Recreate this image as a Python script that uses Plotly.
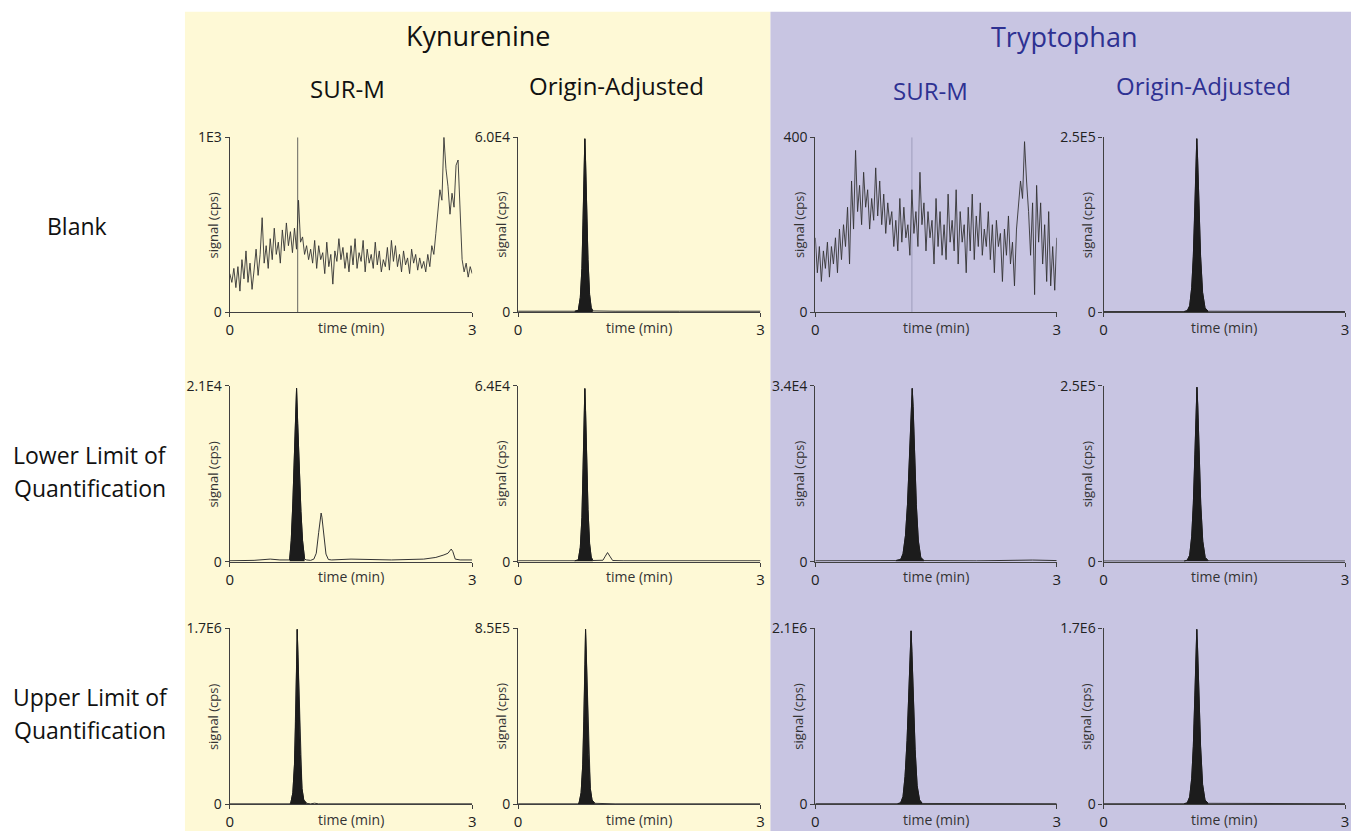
import numpy as np
import plotly.graph_objects as go

# ---------------- data ----------------
compounds = ["Kynurenine", "Tryptophan"]
methods = ["SUR-M", "Origin-Adjusted"]
row_labels = [["Blank"], ["Lower Limit of", "Quantification"], ["Upper Limit of", "Quantification"]]

# y-axis maxima (tick labels) per row (r) and column (c)
ymax_vals = [[1000, 60000, 400, 250000],
             [21000, 64000, 34000, 250000],
             [1700000, 850000, 2100000, 1700000]]
ymax_text = [["1E3", "6.0E4", "400", "2.5E5"],
             ["2.1E4", "6.4E4", "3.4E4", "2.5E5"],
             ["1.7E6", "8.5E5", "2.1E6", "1.7E6"]]

# noisy blank traces (SUR-M), sampled every 0.025 min from 0 to 3
kyn_blank_sur = [
    220, 170, 250, 140, 260, 120, 300, 190, 350, 170, 280, 130, 240, 360, 210, 330, 540, 280, 380, 250,
    420, 300, 480, 330, 400, 280, 470, 350, 510, 380, 460, 340, 480, 360, 640, 400, 430, 330, 380, 300,
    360, 280, 410, 250, 380, 300, 340, 220, 400, 260, 330, 160, 350, 290, 420, 300, 370, 250, 340, 230,
    380, 270, 420, 250, 340, 290, 410, 230, 360, 280, 330, 250, 400, 270, 350, 230, 300, 260, 370, 240,
    410, 290, 380, 260, 330, 230, 350, 270, 310, 220, 360, 280, 330, 240, 310, 250, 290, 230, 330, 260,
    380, 330, 450, 560, 700, 640, 1000, 820, 720, 560, 680, 600, 840, 870, 560, 300, 230, 280, 200, 260,
    220]
trp_blank_sur = [
    170, 90, 150, 70, 140, 100, 160, 80, 150, 110, 170, 90, 190, 120, 200, 150, 240, 110, 300, 190,
    370, 230, 290, 200, 320, 240, 280, 190, 260, 210, 330, 220, 300, 200, 270, 180, 250, 200, 230, 150,
    210, 140, 260, 160, 240, 170, 200, 130, 280, 180, 230, 150, 320, 200, 250, 140, 230, 170, 210, 110,
    260, 150, 230, 130, 200, 120, 270, 160, 210, 140, 280, 110, 230, 160, 200, 90, 240, 140, 270, 120,
    220, 150, 250, 130, 190, 150, 230, 120, 200, 90, 210, 150, 180, 70, 190, 130, 220, 110, 160, 60,
    190, 240, 300, 260, 390, 300, 230, 130, 250, 40, 290, 160, 250, 110, 200, 70, 230, 60, 150, 50,
    170]
blank_time = np.linspace(0, 3, len(kyn_blank_sur))
marker_rt = {"kyn": 0.84, "trp": 1.2}

# peak traces
kyn_blank_oa_t = [0, 0.5, 0.7, 0.745, 0.77, 0.79, 0.805, 0.818, 0.826, 0.835, 0.848, 0.865, 0.885, 0.905, 0.925, 1.2, 2.0, 3.0]
kyn_blank_oa_v = [300, 300, 300, 600, 5000, 15000, 32000, 50000, 59500, 52000, 36000, 18000, 6000, 1500, 400, 300, 300, 300]

kyn_lloq_sur_t = [0, 0.3, 0.5, 0.62, 0.74, 0.76, 0.78, 0.8, 0.815, 0.826, 0.84, 0.86, 0.88, 0.9, 0.925, 0.95, 1.0, 1.04,
                  1.07, 1.1, 1.12, 1.13, 1.14, 1.16, 1.19, 1.22, 1.26, 1.5, 2.0, 2.4, 2.55, 2.65, 2.7, 2.74, 2.76, 2.79, 2.85, 3.0]
kyn_lloq_sur_v = [100, 150, 300, 200, 200, 2500, 7000, 13000, 17500, 20700, 16500, 11000, 6000, 2500, 300, 200, 150, 300,
                  1000, 3500, 5600, 5800, 5300, 3200, 900, 250, 200, 300, 200, 300, 500, 800, 1000, 1500, 1200, 300, 200, 200]

kyn_lloq_oa_t = [0, 0.5, 0.7, 0.745, 0.77, 0.79, 0.805, 0.818, 0.826, 0.835, 0.848, 0.865, 0.885, 0.905, 0.925,
                 1.0, 1.05, 1.08, 1.107, 1.135, 1.17, 1.3, 2.0, 2.5, 3.0]
kyn_lloq_oa_v = [300, 300, 300, 600, 5200, 16000, 34000, 53000, 63000, 55000, 38000, 19000, 6500, 1600, 400,
                 300, 500, 2000, 3300, 2000, 400, 300, 300, 500, 300]

kyn_uloq_sur_t = [0, 0.6, 0.74, 0.755, 0.78, 0.8, 0.815, 0.826, 0.834, 0.843, 0.856, 0.873, 0.893, 0.915, 0.95, 1.0, 1.05, 1.1, 2.0, 3.0]
kyn_uloq_sur_v = [3000, 3000, 3000, 12000, 110000, 380000, 800000, 1350000, 1690000, 1450000, 950000, 480000, 150000, 40000, 8000, 3000, 9000, 3000, 3000, 3000]

kyn_uloq_oa_t = [0, 0.6, 0.74, 0.755, 0.78, 0.8, 0.815, 0.827, 0.835, 0.844, 0.857, 0.874, 0.894, 0.915, 0.95, 1.2, 2.0, 3.0]
kyn_uloq_oa_v = [1500, 1500, 1500, 6000, 55000, 190000, 400000, 675000, 845000, 725000, 475000, 240000, 75000, 20000, 4000, 1500, 1500, 1500]

trp_blank_oa_t = [0, 0.5, 1.0, 1.04, 1.07, 1.095, 1.115, 1.135, 1.15, 1.158, 1.168, 1.185, 1.205, 1.23, 1.26, 1.3, 2.0, 2.5, 3.0]
trp_blank_oa_v = [800, 1000, 800, 2000, 9000, 35000, 80000, 150000, 215000, 248000, 220000, 150000, 80000, 28000, 6000, 1200, 800, 1000, 800]

trp_lloq_sur_t = [0, 0.5, 1.0, 1.06, 1.09, 1.12, 1.145, 1.17, 1.19, 1.204, 1.215, 1.232, 1.255, 1.28, 1.31, 1.35, 2.0, 2.7, 3.0]
trp_lloq_sur_v = [150, 150, 200, 400, 1500, 5000, 11000, 20000, 29000, 33500, 30000, 21000, 11000, 4000, 800, 200, 150, 300, 200]

trp_lloq_oa_t = [0, 0.5, 1.0, 1.04, 1.07, 1.095, 1.115, 1.135, 1.15, 1.16, 1.17, 1.187, 1.207, 1.232, 1.262, 1.3, 2.0, 3.0]
trp_lloq_oa_v = [800, 800, 800, 2000, 9000, 36000, 82000, 152000, 218000, 248000, 222000, 152000, 82000, 29000, 6000, 1200, 800, 800]

trp_uloq_sur_t = [0, 0.5, 1.02, 1.06, 1.09, 1.115, 1.14, 1.16, 1.178, 1.19, 1.2, 1.217, 1.24, 1.265, 1.295, 1.33, 2.0, 3.0]
trp_uloq_sur_v = [5000, 5000, 5000, 15000, 90000, 330000, 760000, 1280000, 1780000, 2070000, 1820000, 1250000, 650000, 220000, 50000, 8000, 5000, 5000]

trp_uloq_oa_t = [0, 0.5, 1.0, 1.04, 1.07, 1.095, 1.115, 1.135, 1.15, 1.158, 1.168, 1.185, 1.205, 1.23, 1.26, 1.3, 2.0, 3.0]
trp_uloq_oa_v = [4000, 4000, 4000, 12000, 70000, 250000, 560000, 1050000, 1480000, 1690000, 1500000, 1030000, 560000, 190000, 40000, 8000, 4000, 4000]

# panels: (row, col, times, values, filled peak window or None)
panels = [
    (0, 0, list(blank_time), kyn_blank_sur, None),
    (0, 1, kyn_blank_oa_t, kyn_blank_oa_v, (0.7, 0.95)),
    (0, 2, list(blank_time), trp_blank_sur, None),
    (0, 3, trp_blank_oa_t, trp_blank_oa_v, (1.0, 1.3)),
    (1, 0, kyn_lloq_sur_t, kyn_lloq_sur_v, (0.74, 0.925)),
    (1, 1, kyn_lloq_oa_t, kyn_lloq_oa_v, (0.7, 0.95)),
    (1, 2, trp_lloq_sur_t, trp_lloq_sur_v, (1.0, 1.35)),
    (1, 3, trp_lloq_oa_t, trp_lloq_oa_v, (1.0, 1.3)),
    (2, 0, kyn_uloq_sur_t, kyn_uloq_sur_v, (0.74, 0.95)),
    (2, 1, kyn_uloq_oa_t, kyn_uloq_oa_v, (0.74, 0.95)),
    (2, 2, trp_uloq_sur_t, trp_uloq_sur_v, (1.02, 1.33)),
    (2, 3, trp_uloq_oa_t, trp_uloq_oa_v, (1.0, 1.3)),
]

# ---------------- layout geometry ----------------
W, H = 1351, 831
# the rendered page is slightly rescaled; map target pixel -> layout pixel
SX, OX, SY, OY = 0.9966, 2.6, 0.9786, 9.2


def fx(xr):
    return (xr - OX) / SX / W


def fy(yr):
    return 1 - (yr - OY) / SY / H


col_px = [(229, 472), (518, 761), (816, 1058), (1105, 1347)]
row_px = [(137, 312.5), (386.5, 563), (630, 806.5)]

FONT = "Open Sans"
AX_COLOR = "#404040"
NAVY = "#2E3192"

fig = go.Figure()
layout_axes = {}
annotations = []


def label(text, x, y, size, color, angle=0):
    annotations.append(dict(text=text, xref="paper", yref="paper", x=fx(x), y=fy(y),
                            xanchor="center", yanchor="middle", showarrow=False, textangle=angle,
                            font=dict(family=FONT, size=size, color=color)))


for idx, (r, c, t, v, win) in enumerate(panels):
    n = idx + 1
    xa = "x" if n == 1 else f"x{n}"
    ya = "y" if n == 1 else f"y{n}"
    xk = "xaxis" if n == 1 else f"xaxis{n}"
    yk = "yaxis" if n == 1 else f"yaxis{n}"
    x0p, x1p = col_px[c]
    y0p, y1p = row_px[r]
    layout_axes[xk] = dict(
        domain=[fx(x0p), fx(x1p)], anchor=ya, range=[0, 3],
        showline=True, linecolor=AX_COLOR, linewidth=1.3, showgrid=False, zeroline=False,
        ticks="outside", ticklen=4, tickcolor=AX_COLOR, tickwidth=1.2,
        tickvals=[0, 3], ticktext=["0", "3"],
        tickfont=dict(family=FONT, size=15, color="#222"), fixedrange=True,
    )
    layout_axes[yk] = dict(
        domain=[fy(y1p), fy(y0p)], anchor=xa, range=[0, ymax_vals[r][c]],
        showline=True, linecolor=AX_COLOR, linewidth=1.3, showgrid=False, zeroline=False,
        ticks="outside", ticklen=4, tickcolor=AX_COLOR, tickwidth=1.2,
        tickvals=[0, ymax_vals[r][c]], ticktext=["0", ymax_text[r][c]],
        tickfont=dict(family=FONT, size=14, color="#222"), fixedrange=True,
    )
    # marker line in blank SUR-M panels
    if win is None:
        key = "kyn" if c < 2 else "trp"
        fig.add_trace(go.Scatter(
            x=[marker_rt[key], marker_rt[key]], y=[0, ymax_vals[r][c]], mode="lines",
            line=dict(color="#555555" if key == "kyn" else "#9a98b8", width=0.9),
            xaxis=xa, yaxis=ya, showlegend=False, hoverinfo="skip"))
    # full trace
    fig.add_trace(go.Scatter(
        x=t, y=v, mode="lines",
        line=dict(color="#333333", width=0.9 if win is None else 1.0),
        xaxis=xa, yaxis=ya, showlegend=False))
    # filled peak
    if win is not None:
        pt = [ti for ti in t if win[0] <= ti <= win[1]]
        pv = [vi for ti, vi in zip(t, v) if win[0] <= ti <= win[1]]
        fig.add_trace(go.Scatter(
            x=pt, y=pv, mode="lines", fill="tozeroy",
            fillcolor="#1c1c1c", line=dict(color="#1c1c1c", width=1),
            xaxis=xa, yaxis=ya, showlegend=False))
    # axis titles
    label("time (min)", (x0p + x1p) / 2, y1p + 15, 14, "#333")
    label("signal (cps)", x0p - 17, (y0p + y1p) / 2, 13, "#333", angle=-90)

# headers
label(compounds[0], 478, 35, 27, "#111")
label(compounds[1], 1065, 36, 27, NAVY)
sub_pos = [(347, 88), (617, 85), (931, 90), (1205, 85)]
for i, (sx, sy) in enumerate(sub_pos):
    label(methods[i % 2], sx, sy, 24, "#111" if i < 2 else NAVY)
row_pos = [[(76, 226)], [(89, 456), (89, 489)], [(89, 699), (89, 732)]]
for lines, poss in zip(row_labels, row_pos):
    for txt, (rx, ry) in zip(lines, poss):
        label(txt, rx, ry, 23, "#111")

shapes = [
    dict(type="rect", xref="paper", yref="paper", x0=fx(184), x1=fx(771), y0=fy(845), y1=fy(11),
         fillcolor="#FEF9D6", line=dict(width=0), layer="below"),
    dict(type="rect", xref="paper", yref="paper", x0=fx(771), x1=fx(1360), y0=fy(845), y1=fy(11),
         fillcolor="#C8C5E2", line=dict(width=0), layer="below"),
]

fig.update_layout(
    width=W, height=H, margin=dict(l=0, r=0, t=0, b=0),
    paper_bgcolor="white", plot_bgcolor="rgba(0,0,0,0)",
    shapes=shapes, annotations=annotations, **layout_axes,
)

post = (
    "document.documentElement.style.margin='0';document.documentElement.style.padding='0';"
    "document.documentElement.style.overflow='hidden';"
    "document.body.style.margin='0';document.body.style.padding='0';document.body.style.overflow='hidden';"
    "var d=document.getElementById('{plot_id}');"
    "if(d.parentElement){d.parentElement.style.width='1351px';d.parentElement.style.height='831px';}"
    "d.style.width='1351px';d.style.height='831px';"
    "Plotly.relayout(d,{width:1351,height:831});"
)

fig.write_html("out.html", post_script=post, default_width="1351px", default_height="831px",
               config={"displayModeBar": False})
